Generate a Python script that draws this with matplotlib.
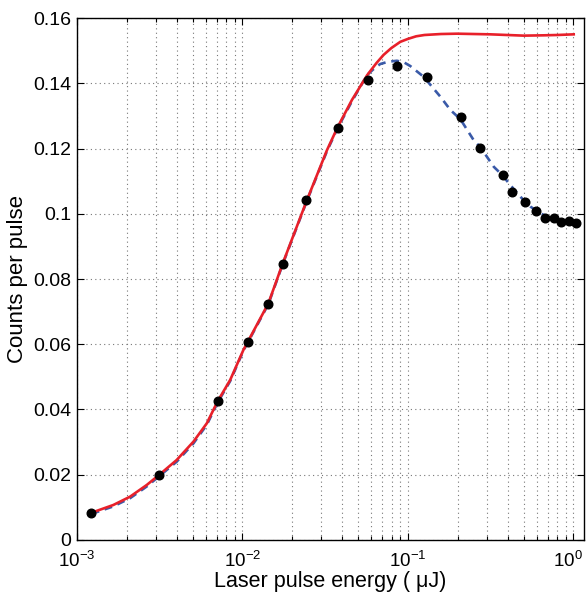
import matplotlib
matplotlib.use("Agg")
import matplotlib.pyplot as plt
import matplotlib.transforms as mtransforms
from matplotlib.ticker import LogLocator, FixedLocator, FixedFormatter
import numpy as np

plt.rcParams['font.family'] = ['Liberation Sans', 'DejaVu Sans']
plt.rcParams['mathtext.fontset'] = 'custom'
plt.rcParams['mathtext.rm'] = 'Liberation Sans'
plt.rcParams['mathtext.it'] = 'Liberation Sans:italic'

# measured points (energy in uJ, counts per pulse)
energy = [1.21e-3, 3.15e-3, 7.08e-3, 1.076e-2, 1.43e-2, 1.75e-2, 2.43e-2,
          3.78e-2, 5.73e-2, 8.54e-2, 0.131, 0.2094, 0.2716, 0.376, 0.4285,
          0.513, 0.596, 0.669, 0.761, 0.847, 0.938, 1.03]
counts = [0.0084, 0.0200, 0.0425, 0.0607, 0.0723, 0.0847, 0.1043,
          0.1263, 0.1411, 0.1454, 0.1419, 0.1297, 0.1202, 0.1119, 0.1068,
          0.1037, 0.1009, 0.0988, 0.0986, 0.0975, 0.0977, 0.0972]

# red model curve (log10 energy, counts)
red_logx = [-2.911, -2.780, -2.679, -2.578, -2.504, -2.397, -2.296, -2.215,
            -2.151, -2.074, -1.994, -1.843, -1.756, -1.610, -1.489, -1.425,
            -1.338, -1.246, -1.190, -1.147, -1.100, -1.046, -1.000, -0.950,
            -0.900, -0.800, -0.703, -0.502, -0.300, -0.179, -0.098, 0.002]
red_y = [0.00837, 0.01073, 0.01327, 0.01686, 0.01992, 0.02452, 0.03013, 0.03577,
         0.04239, 0.04904, 0.05824, 0.07255, 0.08481, 0.1042, 0.1195, 0.1265,
         0.1349, 0.1425, 0.1462, 0.1487, 0.1508, 0.1527, 0.1536, 0.1544,
         0.1548, 0.1551, 0.1552, 0.1550, 0.1546, 0.1547, 0.1548, 0.1550]

# blue dashed fit (log10 energy, counts)
blue_logx = [-2.911, -2.780, -2.679, -2.578, -2.504, -2.397, -2.296, -2.215,
             -2.151, -2.074, -1.994, -1.843, -1.756, -1.610, -1.489, -1.425,
             -1.338, -1.247, -1.200, -1.167, -1.120, -1.066, -1.020, -0.986,
             -0.905, -0.804, -0.743, -0.683, -0.603, -0.562, -0.481, -0.431,
             -0.381, -0.320, -0.260, -0.199, -0.119, -0.058, 0.002]
blue_y = [0.0080, 0.0103, 0.0128, 0.0164, 0.0195, 0.0240, 0.0296, 0.0353,
          0.0420, 0.0487, 0.0580, 0.0723, 0.0846, 0.1040, 0.1192, 0.1262,
          0.1345, 0.1425, 0.1447, 0.1459, 0.1466, 0.1469, 0.1463, 0.1453,
          0.1420, 0.1359, 0.1318, 0.1290, 0.1226, 0.1204, 0.1144, 0.1119,
          0.1088, 0.1052, 0.1022, 0.1001, 0.0983, 0.0973, 0.0966]

ytick_vals = [0, 0.02, 0.04, 0.06, 0.08, 0.1, 0.12, 0.14, 0.16]
ytick_labels = ['0', '0.02', '0.04', '0.06', '0.08', '0.1', '0.12', '0.14', '0.16']

fig = plt.figure(figsize=(5.87, 5.93), dpi=100)
ax = fig.add_axes([0.131, 0.0894, 0.864, 0.8802])

ax.plot(10 ** np.array(blue_logx), blue_y, color='#3a5aa8', lw=1.9,
        dashes=(3.0, 2.2), zorder=3)
ax.plot(10 ** np.array(red_logx), red_y, color='#e8202a', lw=1.9, zorder=4)
ax.plot(energy, counts, 'o', color='black', ms=6.2, zorder=5)

ax.set_xscale('log')
ax.set_xlim(1e-3, 1.16)
ax.set_ylim(0, 0.16)

ax.xaxis.set_major_locator(LogLocator(base=10, numticks=10))
ax.xaxis.set_minor_locator(LogLocator(base=10, subs=np.arange(2, 10), numticks=20))
ax.yaxis.set_major_locator(FixedLocator(ytick_vals))
ax.yaxis.set_major_formatter(FixedFormatter(ytick_labels))

grid_style = dict(linestyle=(0, (1, 3)), color='#777777', lw=0.8)
ax.grid(True, which='major', axis='both', **grid_style)
ax.grid(True, which='minor', axis='x', **grid_style)

ax.tick_params(which='both', direction='in', top=True, right=True,
               labelsize=14, width=0.8)
ax.tick_params(axis='x', labelsize=13.5, pad=8)
ax.tick_params(which='major', length=5)
ax.tick_params(which='minor', length=3)
ax.tick_params(axis='y', pad=4)
for s in ax.spines.values():
    s.set_linewidth(1.0)

ax.set_xlabel('Laser pulse energy ( μJ)', fontsize=15.5, labelpad=0)
ax.set_ylabel('Counts per pulse', fontsize=16, labelpad=4)

# keep the 10^0 label inside the canvas
fig.canvas.draw()
shift = mtransforms.ScaledTranslation(-4 / 72, 0, fig.dpi_scale_trans)
for lab in ax.get_xticklabels():
    if lab.get_position()[0] >= 0.99 and lab.get_text():
        lab.set_transform(lab.get_transform() + shift)

fig.savefig('out.png', dpi=100)
